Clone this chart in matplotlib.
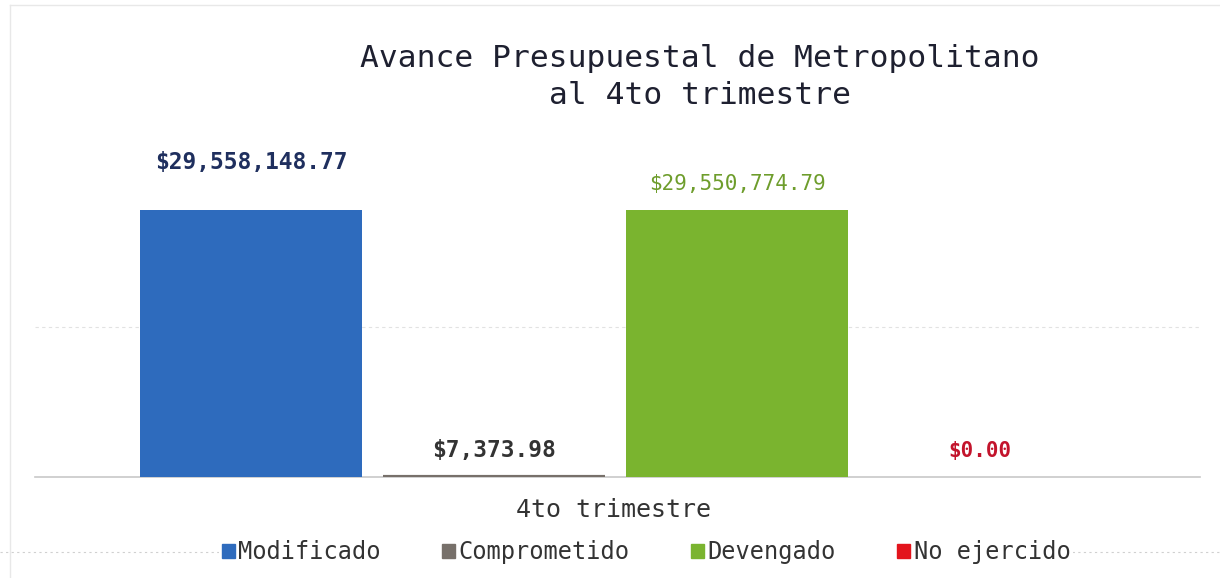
import matplotlib
matplotlib.use("Agg")
import matplotlib.pyplot as plt
from matplotlib.patches import Patch
from matplotlib.lines import Line2D

categories = ["Modificado", "Comprometido", "Devengado", "No ejercido"]
values = [29558148.77, 7373.98, 29550774.79, 0.00]
labels = ["$29,558,148.77", "$7,373.98", "$29,550,774.79", "$0.00"]
period = "4to trimestre"
title = "Avance Presupuestal de Metropolitano\nal 4to trimestre"

bar_colors = ["#2e6bbd", "#77706a", "#7ab42f", "#e3141c"]
label_colors = ["#1f2f5e", "#333333", "#6e9d2c", "#c3142c"]
label_weights = ["bold", "bold", "normal", "bold"]
label_sizes = [16.5, 16.5, 15, 15]
label_offsets = [34, 19, 19, 19]

mono = "DejaVu Sans Mono"
W, H = 1220, 578
fig = plt.figure(figsize=(W / 100, H / 100), dpi=100)
ax = fig.add_axes([35 / W, 1 - 477 / H, (1200 - 35) / W, 300 / H])

x = list(range(len(categories)))
ax.bar(x, values, width=0.913, color=bar_colors, edgecolor=bar_colors,
       linewidth=[0, 3, 0, 0], zorder=3)
ax.set_xlim(-0.889, 3.905)
ax.set_ylim(0, 33.2e6)
ax.set_yticks([16.6e6])
ax.yaxis.grid(True, color="#e2e2e2", linestyle=(0, (3, 3)), linewidth=0.8, zorder=0)
ax.set_yticklabels([])
ax.tick_params(axis="both", length=0)
ax.set_xticks([])
for s in ["top", "right", "left"]:
    ax.spines[s].set_visible(False)
ax.spines["bottom"].set_color("#c8c8c8")
ax.spines["bottom"].set_linewidth(1.2)

for xi, v, lab, c, w, sz, off in zip(x, values, labels, label_colors, label_weights,
                                     label_sizes, label_offsets):
    ax.annotate(lab, (xi, v), xytext=(0, off), textcoords="offset points",
                ha="center", va="center", fontsize=sz, color=c,
                fontweight=w, family=mono)

fig.text(700 / W, 1 - 77 / H, title, ha="center", va="center",
         fontsize=22.5, family=mono, color="#1e2030", linespacing=1.35)
fig.text(614 / W, 1 - 510 / H, period, ha="center", va="center",
         fontsize=18, family=mono, color="#333333")

# faint dotted line behind legend
fig.add_artist(Line2D([0, 1], [1 - 552 / H, 1 - 552 / H], transform=fig.transFigure,
                      color="#d0d0d0", linestyle=(0, (2, 3)), linewidth=0.8, zorder=0))

handles = [Patch(facecolor=c, edgecolor=c) for c in bar_colors]
leg = fig.legend(handles, categories, loc="center", bbox_to_anchor=(646 / W, 1 - 552 / H),
                 ncol=4, frameon=True, fancybox=False, edgecolor="none", facecolor="white",
                 framealpha=1, handlelength=0.55, handleheight=0.55, handletextpad=0.15,
                 columnspacing=2.6, borderpad=0.1,
                 prop={"family": mono, "size": 17})
for t in leg.get_texts():
    t.set_color("#333333")

# faint page border
fig.add_artist(Line2D([0.008, 0.008], [0, 0.992], transform=fig.transFigure,
                      color="#e8e8e8", linewidth=1))
fig.add_artist(Line2D([0.008, 1], [0.992, 0.992], transform=fig.transFigure,
                      color="#e8e8e8", linewidth=1))

fig.savefig("out.png", dpi=100, facecolor="white")
